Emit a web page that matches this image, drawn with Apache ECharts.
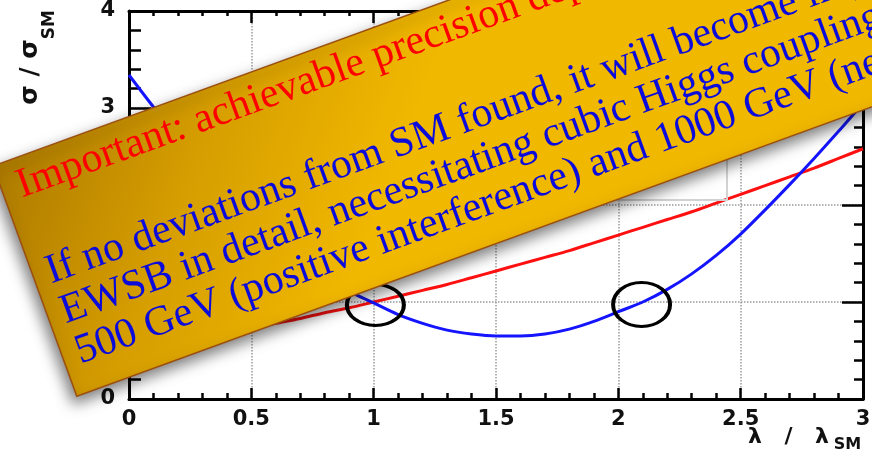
<!DOCTYPE html>
<html>
<head>
<meta charset="utf-8">
<script src="https://cdn.jsdelivr.net/npm/echarts@6/dist/echarts.min.js"></script>
<style>
  html, body { margin: 0; padding: 0; background: #ffffff; }
  #chart { width: 872px; height: 472px; }
</style>
</head>
<body>
<div id="chart"></div>
<script>
// Coupling scan: lambda / lambda_SM on the horizontal axis
const lambdaValues = [0, 0.1, 0.2, 0.3, 0.4, 0.5, 0.6, 0.7, 0.8, 0.9, 1.0,
  1.1, 1.2, 1.3, 1.4, 1.5, 1.6, 1.7, 1.8, 1.9, 2.0,
  2.1, 2.2, 2.3, 2.4, 2.5, 2.6, 2.7, 2.8, 2.9, 3.0];

// sigma / sigma_SM, blue curve
const blueRatio = [3.34, 3.01, 2.70, 2.41, 2.14, 1.88, 1.65, 1.44, 1.26, 1.11, 0.99,
  0.87, 0.78, 0.71, 0.67, 0.65, 0.65, 0.67, 0.72, 0.80, 0.90,
  1.00, 1.13, 1.29, 1.48, 1.70, 1.95, 2.21, 2.48, 2.76, 3.05];

// sigma / sigma_SM, red curve
const redRatio = [0.51, 0.55, 0.59, 0.64, 0.68, 0.73, 0.78, 0.83, 0.89, 0.94, 1.00,
  1.06, 1.12, 1.18, 1.25, 1.32, 1.39, 1.46, 1.53, 1.61, 1.69,
  1.77, 1.85, 1.93, 2.02, 2.11, 2.20, 2.29, 2.38, 2.48, 2.58];

// highlighted points (ellipse markers)
const circleLambda = [1.007, 2.095];
const circleRatio = [0.97, 0.975];
const circleSize = [[57, 41], [57, 44]];

const xTickLabels = ['0', '0.5', '1', '1.5', '2', '2.5', '3'];
const yTickLabels = ['0', '1', '2', '3', '4'];

const noteHeading = 'Important: achievable precision depends';
const noteLines = [
  'If no deviations from SM found, it will become important',
  'EWSB in detail, necessitating cubic Higgs coupling measurement',
  '500 GeV (positive interference) and 1000 GeV (negative'
];

const axisFont = 'DejaVu Sans';
const noteFont = '42px "Liberation Serif"';
const deg = Math.PI / 180;

const tickLabelStyle = {
  color: '#111', fontFamily: axisFont, fontWeight: 'bold', fontSize: 21
};

function xAxisBase(position, majorLen, minorLen) {
  return {
    type: 'value', min: 0, max: 3, interval: 0.5, position: position,
    axisLine: { show: true, onZero: false, lineStyle: { color: '#000', width: 3 } },
    axisTick: { show: true, inside: true, length: majorLen, lineStyle: { color: '#000', width: 2.5 } },
    minorTick: { show: true, splitNumber: 5, length: minorLen, lineStyle: { color: '#000', width: 2.5 } },
    minorSplitLine: { show: false }
  };
}

function yAxisBase(position, majorLen, minorLen) {
  return {
    type: 'value', min: 0, max: 4, interval: 1, position: position,
    axisLine: { show: true, onZero: false, lineStyle: { color: '#000', width: 3 } },
    axisTick: { show: true, inside: true, length: majorLen, lineStyle: { color: '#000', width: 2.5 } },
    minorTick: { show: true, splitNumber: 5, length: minorLen, lineStyle: { color: '#000', width: 2.5 } },
    minorSplitLine: { show: false }
  };
}

const gridLine = { show: true, lineStyle: { color: '#9a9a9a', type: 'dotted', width: 1.5 } };

const xBottom = Object.assign(xAxisBase('bottom', 11, 6), {
  splitLine: gridLine,
  axisLabel: Object.assign({}, tickLabelStyle, {
    margin: 10,
    formatter: function (v) { return xTickLabels[Math.round(v / 0.5)]; }
  }),
  name: '{l|λ}{g|/}{l|λ}{s|SM}',
  nameLocation: 'end',
  nameGap: -2,
  nameMoveOverlap: false,
  nameTextStyle: {
    color: '#111', fontFamily: axisFont, fontWeight: 'bold',
    align: 'right', verticalAlign: 'top', padding: [27, 0, 0, 0],
    rich: {
      l: { fontSize: 22, fontWeight: 'bold', width: 24, align: 'center', verticalAlign: 'top' },
      g: { fontSize: 22, fontWeight: 'bold', width: 43, align: 'center', verticalAlign: 'top' },
      s: { fontSize: 16, fontWeight: 'bold', width: 27, align: 'center', verticalAlign: 'bottom', padding: [11, 0, 0, 0] }
    }
  }
});

const xTop = Object.assign(xAxisBase('top', 12, 5), {
  splitLine: { show: false },
  axisLabel: { show: false }
});

const yLeft = Object.assign(yAxisBase('left', 22, 12), {
  splitLine: gridLine,
  axisLabel: Object.assign({}, tickLabelStyle, {
    margin: 14,
    formatter: function (v) { return yTickLabels[Math.round(v)]; }
  }),
  name: '{m|σ / σ}{s|SM}',
  nameLocation: 'end',
  nameRotate: 90,
  nameGap: 1,
  nameMoveOverlap: false,
  nameTextStyle: {
    color: '#111', fontFamily: axisFont, fontWeight: 'bold',
    align: 'right', verticalAlign: 'bottom', padding: [0, 0, 71, 0],
    rich: {
      m: { fontSize: 25, fontWeight: 'bold', verticalAlign: 'top' },
      s: { fontSize: 17, fontWeight: 'bold', verticalAlign: 'bottom', padding: [23, 0, 0, 0] }
    }
  }
});

const yRight = Object.assign(yAxisBase('right', 21, 9), {
  splitLine: { show: false },
  axisLabel: { show: false }
});

function pairs(xs, ys) {
  return xs.map(function (x, i) { return [x, ys[i]]; });
}

// slanted note banner, drawn over the plot
const bannerChildren = [
  {
    type: 'rect', z: 100,
    shape: { x: 0, y: 0, width: 1150, height: 245 },
    style: {
      fill: new echarts.graphic.LinearGradient(0, 0, 0.25, 1, [
        { offset: 0, color: '#ad7a00' },
        { offset: 0.5, color: '#d69e00' },
        { offset: 1, color: '#f1b800' }
      ]),
      stroke: '#9b4f0f', lineWidth: 1.5,
      shadowBlur: 14, shadowOffsetX: -3, shadowOffsetY: 7, shadowColor: 'rgba(0,0,0,0.5)'
    }
  },
  {
    type: 'text', z: 101, x: 16.5, y: 28.4,
    style: { text: noteHeading, font: noteFont, fill: '#ff0000', verticalAlign: 'middle' }
  }
];
const noteBaselines = [119.3, 161.8, 204.8];
noteLines.forEach(function (line, i) {
  bannerChildren.push({
    type: 'text', z: 101, x: 14.5, y: noteBaselines[i],
    style: { text: line, font: noteFont, fill: '#0b0bdc', verticalAlign: 'middle' }
  });
});

const option = {
  animation: false,
  backgroundColor: '#ffffff',
  grid: { left: 129, right: 9, top: 11, bottom: 73, containLabel: false, outerBoundsMode: 'none' },
  xAxis: [xBottom, xTop],
  yAxis: [yLeft, yRight],
  series: [
    {
      type: 'line', name: 'red', data: pairs(lambdaValues, redRatio),
      smooth: 0.3, showSymbol: false, symbol: 'none', z: 3,
      lineStyle: { color: '#ff1010', width: 3 }
    },
    {
      type: 'line', name: 'blue', data: pairs(lambdaValues, blueRatio),
      smooth: 0.3, showSymbol: false, symbol: 'none', z: 4,
      lineStyle: { color: '#1414ff', width: 3 }
    },
    {
      type: 'scatter', z: 5, silent: true,
      data: circleLambda.map(function (x, i) {
        return { value: [x, circleRatio[i]], symbolSize: circleSize[i] };
      }),
      symbol: 'circle',
      itemStyle: { color: 'rgba(0,0,0,0)', borderColor: '#000', borderWidth: 3.5, opacity: 1 }
    }
  ],
  graphic: [
    {
      type: 'rect', z: 50, silent: true,
      shape: { x: 590, y: 140, width: 137, height: 60 },
      style: { fill: 'none', stroke: '#d2d2d2', lineWidth: 2 }
    },
    {
      type: 'group', x: -7, y: 166, rotation: 20 * deg, z: 100, silent: true,
      children: bannerChildren
    }
  ]
};

const chart = echarts.init(document.getElementById('chart'), null, { renderer: 'canvas' });
chart.setOption(option);
</script>
</body>
</html>
